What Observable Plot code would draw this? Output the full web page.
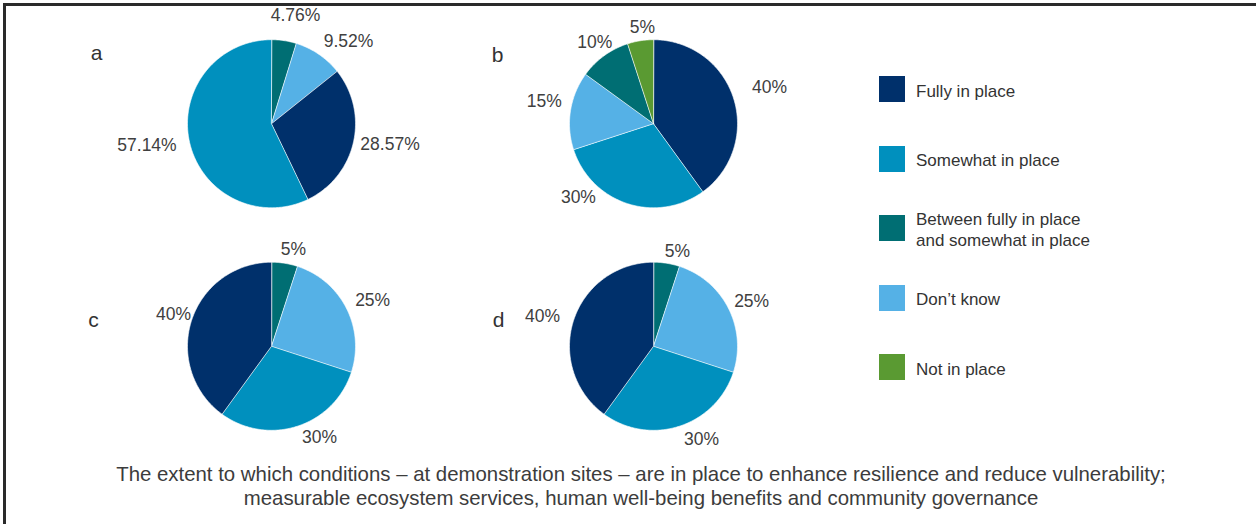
<!DOCTYPE html>
<html>
<head>
<meta charset="utf-8">
<script src="https://cdn.jsdelivr.net/npm/d3@7"></script>
<script src="https://cdn.jsdelivr.net/npm/@observablehq/plot@0.6"></script>
<style>
  html, body { margin: 0; padding: 0; background: #fff; }
  body { font-family: "Liberation Sans", Arial, Helvetica, sans-serif; }
  #page { position: relative; width: 1256px; height: 524px; overflow: hidden; background: #fff; }
  #frame { position: absolute; left: 3px; top: 3px; right: 0; bottom: 0;
           border-top: 3px solid #2a2a2a; border-left: 3px solid #2a2a2a; }
  #chart { position: absolute; left: 0; top: 0; }
  #legend { position: absolute; left: 879px; top: 76px; display: flex; flex-direction: column; gap: 43.5px; }
  .item { display: flex; align-items: center; height: 26px; }
  .sw { width: 26px; height: 26px; flex: none; }
  .lab { margin-left: 11px; font-size: 17px; line-height: 21px; color: #333; position: relative; top: 2px; white-space: nowrap; }
  #caption { position: absolute; left: 0; width: 1282px; top: 462px; text-align: center;
             font-size: 20.4px; line-height: 24px; color: #3c3c3c; }
</style>
</head>
<body>
<div id="page">
  <div id="frame"></div>
  <div id="chart"></div>
  <div id="legend"></div>
  <div id="caption"></div>
</div>
<script>
// ---------- data ----------
const categories = [
  "Fully in place",
  "Somewhat in place",
  "Between fully in place and somewhat in place",
  "Don’t know",
  "Not in place"
];
const legendLines = [
  ["Fully in place"],
  ["Somewhat in place"],
  ["Between fully in place", "and somewhat in place"],
  ["Don’t know"],
  ["Not in place"]
];
const colors = ["#00306b", "#0090be", "#006e73", "#55b1e6", "#5a9a32"];

const panels = ["a", "b", "c", "d"];

// slices listed clockwise from 12 o'clock
const aCategories = ["Between fully in place and somewhat in place", "Don’t know", "Fully in place", "Somewhat in place"];
const aValues = [4.76, 9.52, 28.57, 57.14];

const bCategories = ["Fully in place", "Somewhat in place", "Don’t know", "Between fully in place and somewhat in place", "Not in place"];
const bValues = [40, 30, 15, 10, 5];

const cCategories = ["Between fully in place and somewhat in place", "Don’t know", "Somewhat in place", "Fully in place"];
const cValues = [5, 25, 30, 40];

const dCategories = ["Between fully in place and somewhat in place", "Don’t know", "Somewhat in place", "Fully in place"];
const dValues = [5, 25, 30, 40];

const captionLines = [
  "The extent to which conditions – at demonstration sites – are in place to enhance resilience and reduce vulnerability;",
  "measurable ecosystem services, human well-being benefits and community governance"
];

// ---------- layout ----------
const D = 2, DY = 1.3;             // data half-extent of each facet
const bandW = 336, unit = bandW / (2 * D); // px per radius
const labelFont = 17.5;
const ctx = document.createElement("canvas").getContext("2d");
ctx.font = `${labelFont}px "Liberation Sans"`;

const panelSpec = [
  {panel: "a", col: 0, row: 0, cats: aCategories, vals: aValues},
  {panel: "b", col: 1, row: 0, cats: bCategories, vals: bValues},
  {panel: "c", col: 0, row: 1, cats: cCategories, vals: cValues},
  {panel: "d", col: 1, row: 1, cats: dCategories, vals: dValues}
];
// small manual nudges (px) mimicking the original "best fit" label placement
const labelNudge = {
  a0: [6, -4], a1: [9, 4], a2: [-4, -3], a3: [-2, -2],
  b0: [8, -4], b1: [-40, -26], b2: [3, -6], b3: [8, 4], b4: [6, 7],
  c0: [5, 7], c1: [0, 2], c2: [13, -9], c3: [10, 1],
  d0: [7, 9], d1: [-3, 3], d2: [13, -7], d3: [-3, 3]
};
const letterOffset = {a: [-175, -70], b: [-156, -68], c: [-178, -26], d: [-155, -26]};

const slicePts = [], labels = [], letters = [];
for (const p of panelSpec) {
  const total = d3.sum(p.vals);
  let acc = 0;
  p.vals.forEach((v, i) => {
    const a0 = acc / total * 2 * Math.PI; acc += v;
    const a1 = acc / total * 2 * Math.PI;
    const id = p.panel + i;
    const n = Math.max(2, Math.ceil((a1 - a0) / (Math.PI / 180)));
    slicePts.push({id, col: p.col, row: p.row, cat: p.cats[i], x: 0, y: 0});
    for (let k = 0; k <= n; k++) {
      const t = a0 + (a1 - a0) * k / n;
      slicePts.push({id, col: p.col, row: p.row, cat: p.cats[i], x: Math.sin(t), y: Math.cos(t)});
    }
    const m = (a0 + a1) / 2;
    const text = v + "%";
    const w = ctx.measureText(text).width;
    const gap = 12, hh = 9;
    const sx = Math.sin(m), cy = Math.cos(m);
    const nd = labelNudge[id] || [0, 0];
    labels.push({
      col: p.col, row: p.row, text,
      x: sx * (1 + gap / unit) + sx * (w / 2) / unit + nd[0] / unit,
      y: cy * (1 + gap / unit) + cy * hh / unit - nd[1] / unit
    });
  });
  const lo = letterOffset[p.panel];
  letters.push({col: p.col, row: p.row, text: p.panel, x: lo[0] / unit, y: -lo[1] / unit});
}

const chart = Plot.plot({
  width: 841,
  height: 465,
  marginLeft: 103,
  marginRight: 20,
  marginTop: 14,
  marginBottom: 10,
  style: {fontFamily: '"Liberation Sans", Arial, sans-serif', background: "transparent", overflow: "visible"},
  x: {domain: [-D, D], axis: null},
  y: {domain: [-DY, DY], axis: null},
  fx: {axis: null, paddingInner: 1 - bandW / 382, paddingOuter: 0, round: false},
  fy: {axis: null, paddingInner: 1 - (2 * DY * unit) / 222.5, paddingOuter: 0, round: false},
  color: {domain: categories, range: colors},
  marks: [
    Plot.line(slicePts, {x: "x", y: "y", z: "id", fill: "cat", stroke: "white", strokeWidth: 0.6,
      curve: "linear-closed", fx: "col", fy: "row"}),
    Plot.text(labels, {x: "x", y: "y", text: "text", fx: "col", fy: "row",
      fontSize: labelFont, fill: "#404040"}),
    Plot.text(letters, {x: "x", y: "y", text: "text", fx: "col", fy: "row",
      fontSize: 21, fill: "#333"})
  ]
});
document.getElementById("chart").appendChild(chart);

// legend
const legend = document.getElementById("legend");
categories.forEach((c, i) => {
  const item = document.createElement("div");
  item.className = "item";
  const sw = document.createElement("div");
  sw.className = "sw";
  sw.style.background = colors[i];
  const lab = document.createElement("div");
  lab.className = "lab";
  lab.innerHTML = legendLines[i].join("<br>");
  item.appendChild(sw); item.appendChild(lab);
  legend.appendChild(item);
});

document.getElementById("caption").innerHTML = captionLines.join("<br>");
</script>
</body>
</html>
